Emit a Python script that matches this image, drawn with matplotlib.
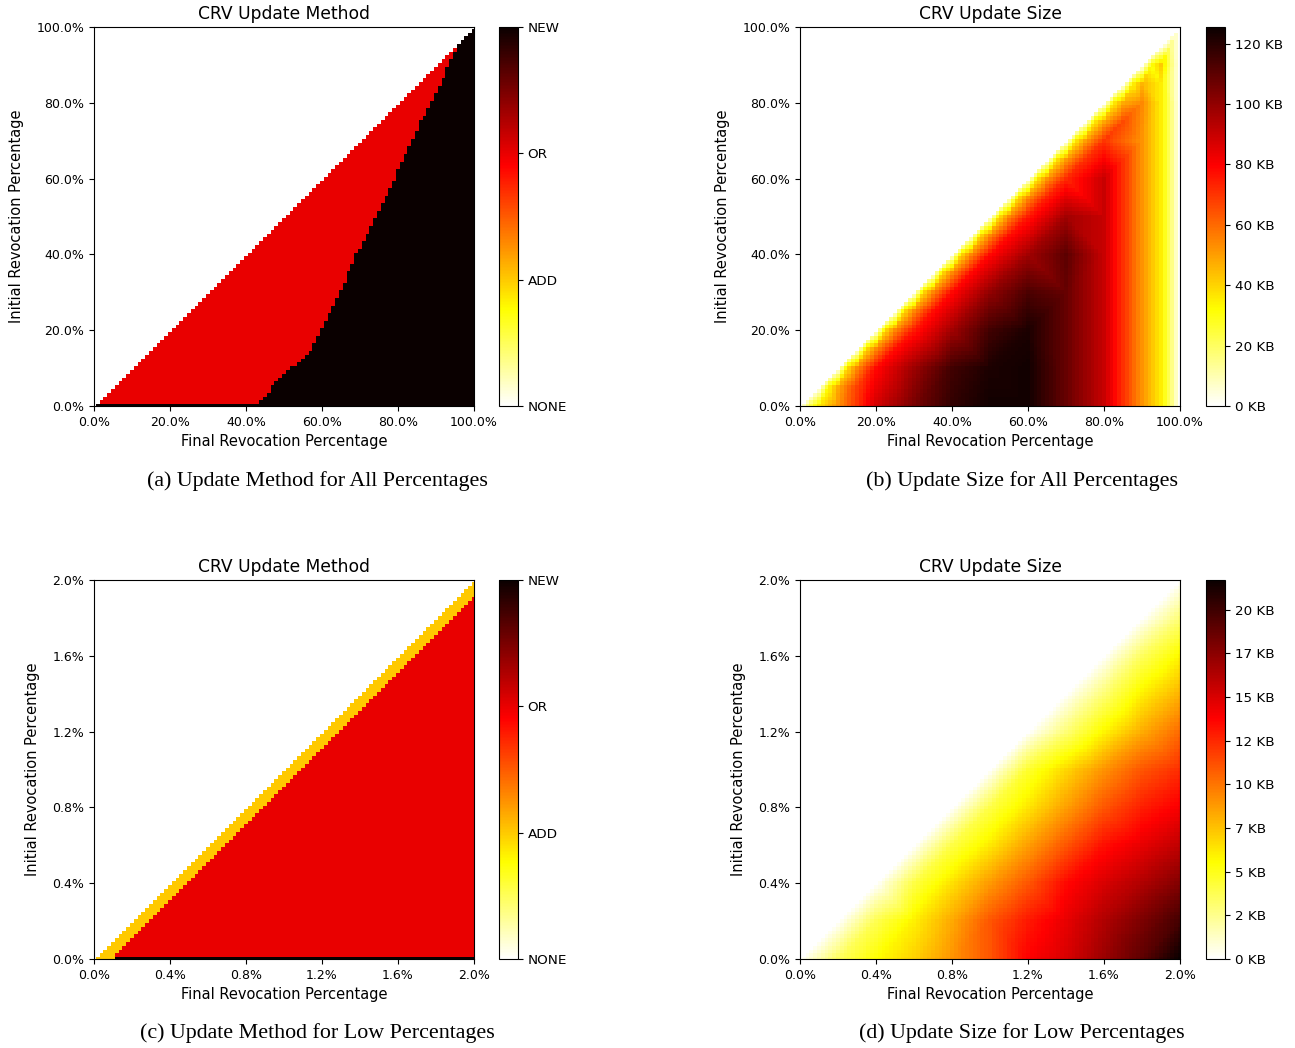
import numpy as np
import matplotlib.pyplot as plt
import matplotlib.tri as mtri
from matplotlib.ticker import PercentFormatter, MultipleLocator, FuncFormatter

W, H = 1295, 1048

# colour-bar labels of the update method codes 0..3
METHODS = ['NONE', 'ADD', 'OR', 'NEW']

# (a) boundary where OR turns into NEW: initial % -> final %
a_bound_y = [1, 5, 10, 15, 20, 25, 30, 35, 40, 45, 50, 55, 60, 65, 70, 75, 80, 85, 90, 95, 99]
a_bound_x = [43.5, 47.0, 52.0, 57.5, 59.8, 62.5, 64.9, 67.0, 69.0, 71.7, 74.3, 77.0,
             79.2, 81.2, 83.6, 86.0, 89.0, 91.3, 93.4, 96.0, 99.0]

# (c) width of the ADD strip next to the diagonal: initial % -> width (final %)
c_add_y = [0.0, 0.5, 1.0, 1.5, 2.0]
c_add_w = [0.10, 0.09, 0.09, 0.09, 0.10]

# (b) update size (KB) on a 10 % grid; row j = initial 10*j %, values for final = initial..100 %
b_grid = [0, 10, 20, 30, 40, 50, 60, 70, 80, 90, 100]
b_kb_rows = [
    [0, 52, 88, 105, 118, 124, 124, 108, 90, 52, 0],
    [0, 78, 98, 115, 122, 124, 108, 90, 52, 0],
    [0, 75, 97, 115, 122, 108, 90, 52, 0],
    [0, 78, 100, 113, 108, 90, 52, 0],
    [0, 78, 97, 110, 90, 52, 0],
    [0, 75, 97, 90, 52, 0],
    [0, 72, 90, 52, 0],
    [0, 70, 52, 0],
    [0, 54, 0],
    [0, 0],
    [0],
]
# (b) readings next to the diagonal, every 5 % of initial, at final = initial + 2.5 / 5 / 10 %
b_near_y = [0, 5, 10, 15, 20, 25, 30, 35, 40, 45, 50, 55, 60, 65, 70, 75, 80, 85, 90, 95]
b_d2_kb = [21, 32, 38, 38, 38, 38, 38, 38, 38, 38, 37, 37, 36, 36, 35, 35, 34, 33, 30, 17]
b_d5_kb = [36, 48, 54, 54, 54, 54, 54, 54, 54, 54, 54, 53, 52, 51, 50, 49, 48, 46, 42, 0]
b_d10_kb = [52, 68, 78, 77, 75, 77, 78, 78, 78, 77, 75, 74, 72, 71, 70, 66, 54, 35]
# (b) readings near the right edge (NEW region): final 95 % and 97.5 %
b_x95_y = [0, 10, 20, 30, 40, 50, 60, 70, 80]
b_x95_kb = [35, 35, 35, 35, 35, 35, 35, 35, 35]
b_x97_y = [0, 10, 20, 30, 40, 50, 60, 70, 80, 90]
b_x97_kb = [19, 19, 19, 19, 19, 19, 19, 19, 19, 19]

# (d) update size (KB) on a 0.2 % grid, same layout as (b)
d_grid = [0.0, 0.2, 0.4, 0.6, 0.8, 1.0, 1.2, 1.4, 1.6, 1.8, 2.0]
d_kb_rows = [
    [0, 3.5, 5.5, 7.0, 9.0, 11.0, 13.8, 15.0, 17.0, 19.0, 21.7],
    [0, 3.8, 6.0, 8.3, 11.0, 13.0, 14.5, 16.3, 18.0, 19.8],
    [0, 4.0, 6.5, 8.8, 11.0, 13.5, 15.0, 16.3, 17.8],
    [0, 4.0, 6.2, 8.6, 11.0, 13.3, 14.5, 15.8],
    [0, 4.0, 6.3, 8.6, 11.0, 12.8, 14.0],
    [0, 4.5, 6.8, 9.0, 11.0, 12.3],
    [0, 3.0, 5.8, 8.2, 10.3],
    [0, 3.0, 6.0, 8.0],
    [0, 3.5, 5.8],
    [0, 3.0],
    [0],
]

B_MAX = 125.5   # KB at the top of colour bar (b)
D_MAX = 21.7    # KB at the top of colour bar (d)
N = 101         # cells per axis in every heat map


def method_grid(top, bound_y=None, bound_x=None, add_y=None, add_w=None):
    v = np.linspace(0, top, N)
    X, Y = np.meshgrid(v, v)
    eps = 1e-9
    g = np.full(X.shape, 2.0)                      # OR
    if bound_y is not None:
        g[X >= np.interp(Y, bound_y, bound_x) - eps] = 3   # NEW
    g[0, :] = 3                                    # initial 0 % -> NEW
    if add_y is not None:
        g[(X - Y) <= np.interp(Y, add_y, add_w) + eps] = 1  # ADD
    g[np.isclose(X, Y)] = 0                        # NONE
    g[Y > X + eps] = np.nan
    return np.ma.masked_invalid(g)


def collect(grid, rows, extra=()):
    pts = {}
    for j, row in enumerate(rows):
        for k, val in enumerate(row):
            pts.setdefault((grid[j + k], grid[j]), val)
    for xs, ys, vs in extra:
        for x, y, val in zip(xs, ys, vs):
            if x <= grid[-1]:
                pts.setdefault((x, y), val)
    return pts


def size_grid(top, pts):
    xy = np.array(list(pts.keys()), float)
    tri = mtri.Triangulation(xy[:, 0], xy[:, 1])
    interp = mtri.LinearTriInterpolator(tri, np.array(list(pts.values()), float))
    v = np.linspace(0, top, N)
    X, Y = np.meshgrid(v, v)
    g = interp(X, Y).filled(0.0)
    g[Y > X + 1e-9] = np.nan
    return np.ma.masked_invalid(g)


def box(x0, y0, x1, y1):
    return [x0 / W, 1 - y1 / H, (x1 - x0) / W, (y1 - y0) / H]


def style_axes(ax, top, step, title):
    ax.set_xlim(0, top)
    ax.set_ylim(0, top)
    ax.xaxis.set_major_locator(MultipleLocator(step))
    ax.yaxis.set_major_locator(MultipleLocator(step))
    ax.xaxis.set_major_formatter(PercentFormatter(100, decimals=1))
    ax.yaxis.set_major_formatter(PercentFormatter(100, decimals=1))
    ax.tick_params(labelsize=9)
    ax.set_title(title, fontsize=12.3)
    ax.set_xlabel('Final Revocation Percentage', fontsize=10.5)
    ax.set_ylabel('Initial Revocation Percentage', fontsize=10.5, labelpad=9)


def heat(ax, g, top, vmax):
    h = top / (2 * (N - 1))
    return ax.imshow(g, cmap='hot_r', vmin=0, vmax=vmax, origin='lower',
                     extent=[-h, top + h, -h, top + h], interpolation='nearest',
                     aspect='auto')


b_pts = collect(b_grid, b_kb_rows, [
    (b_near_y, b_near_y, [0] * len(b_near_y)),
    ([y + 2.5 for y in b_near_y], b_near_y, b_d2_kb),
    ([y + 5 for y in b_near_y], b_near_y, b_d5_kb),
    ([y + 10 for y in b_near_y], b_near_y, b_d10_kb),
    ([95] * len(b_x95_y), b_x95_y, b_x95_kb),
    ([97.5] * len(b_x97_y), b_x97_y, b_x97_kb),
])
d_pts = collect(d_grid, d_kb_rows)

fig = plt.figure(figsize=(W / 100, H / 100), dpi=100)

rows_px = [(27, 406), (580, 959)]
cols_px = [(94, 474, 499, 518), (800, 1180, 1206, 1225)]

# --- (a) and (c): update method -------------------------------------------
for r, (top, step, kw) in enumerate([
        (100, 20, dict(bound_y=a_bound_y, bound_x=a_bound_x)),
        (2.0, 0.4, dict(add_y=c_add_y, add_w=c_add_w))]):
    y0, y1 = rows_px[r]
    x0, x1, cx0, cx1 = cols_px[0]
    ax = fig.add_axes(box(x0, y0, x1, y1))
    im = heat(ax, method_grid(top, **kw), top, 3)
    style_axes(ax, top, step, 'CRV Update Method')
    cax = fig.add_axes(box(cx0, y0, cx1, y1))
    cb = fig.colorbar(im, cax=cax, ticks=[0, 1, 2, 3])
    cb.ax.set_yticklabels(METHODS)
    cb.ax.tick_params(labelsize=9.7)

# --- (b) and (d): update size ---------------------------------------------
for r, (top, step, pts, vmax, cticks) in enumerate([
        (100, 20, b_pts, B_MAX, np.arange(0, 121, 20)),
        (2.0, 0.4, d_pts, D_MAX, np.arange(0, 20.1, 2.5))]):
    y0, y1 = rows_px[r]
    x0, x1, cx0, cx1 = cols_px[1]
    ax = fig.add_axes(box(x0, y0, x1, y1))
    im = heat(ax, size_grid(top, pts), top, vmax)
    style_axes(ax, top, step, 'CRV Update Size')
    cax = fig.add_axes(box(cx0, y0, cx1, y1))
    cb = fig.colorbar(im, cax=cax, ticks=cticks)
    cb.ax.yaxis.set_major_formatter(FuncFormatter(lambda v, p: f'{int(v)} KB'))
    cb.ax.tick_params(labelsize=9.7)

# --- sub-figure captions ----------------------------------------------------
captions = [
    (317, 481, '(a) Update Method for All Percentages'),
    (1022, 481, '(b) Update Size for All Percentages'),
    (317, 1033, '(c) Update Method for Low Percentages'),
    (1022, 1033, '(d) Update Size for Low Percentages'),
]
for cx, cy, text in captions:
    fig.text(cx / W, 1 - cy / H, text, ha='center', va='center',
             family='Liberation Serif', fontsize=15.8)

fig.savefig('out.png', dpi=100)
